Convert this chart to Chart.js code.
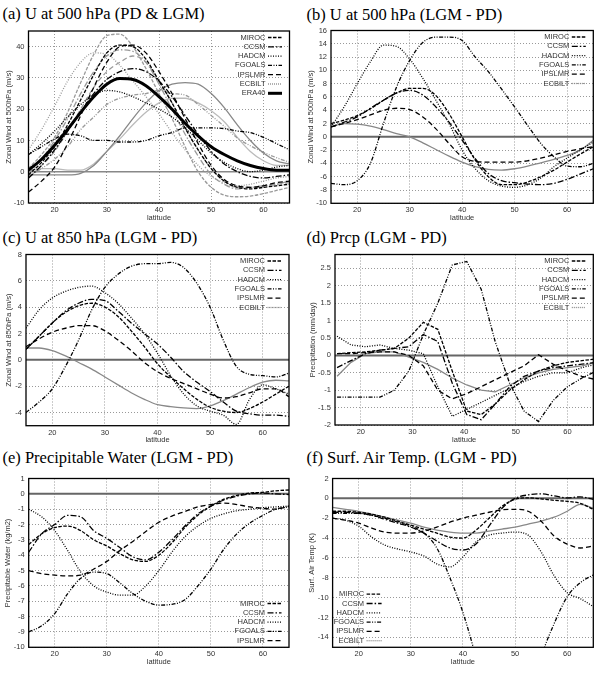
<!DOCTYPE html>
<html>
<head>
<meta charset="utf-8">
<script src="https://cdn.jsdelivr.net/npm/chart.js@4"></script>
<style>
body { margin: 0; background: #fff; width: 603px; height: 673px; position: relative; overflow: hidden; }
.t { position: absolute; font-family: "Liberation Serif", "DejaVu Serif", "Tinos", "Times New Roman", Times, "Noto Serif", serif; font-size: 16.5px; line-height: 1; white-space: nowrap; color: #000; }
canvas { position: absolute; }
</style>
</head>
<body>
<div class="t" style="left:2.5px;top:6.2px">(a) U at 500 hPa (PD &amp; LGM)</div>
<div class="t" style="left:306.5px;top:6.9px">(b) U at 500 hPa (LGM - PD)</div>
<div class="t" style="left:2.5px;top:230.2px">(c) U at 850 hPa (LGM - PD)</div>
<div class="t" style="left:306.5px;top:230.2px">(d) Prcp (LGM - PD)</div>
<div class="t" style="left:2.5px;top:449.9px">(e) Precipitable Water (LGM - PD)</div>
<div class="t" style="left:306.5px;top:450.2px">(f) Surf. Air Temp. (LGM - PD)</div>
<script>
// latitude grids
const lats = [15, 17.5, 20, 22.5, 25, 27.5, 30, 32.5, 35, 37.5, 40, 42.5, 45, 47.5, 50, 52.5, 55, 57.5, 60, 62.5, 65];
const latsPrep = [15.4, 18.1, 20.9, 23.7, 26.5, 29.3, 32.1, 34.9, 37.7, 40.5, 43.3, 46.0, 48.8, 51.6, 54.4, 57.2, 60.0, 62.8, 65.6];
const xTicks = [20, 30, 40, 50, 60];

// (a) U at 500 hPa, PD (black) and LGM (grey)
const era40 = [0.5, 4, 8.5, 13.5, 19, 24, 28, 29.8, 29.5, 27.5, 24, 20, 15.5, 11.5, 8, 5.5, 3.5, 2, 1, 0.5, 0.5];
const aMirocPd = [-1, 3, 8, 15, 23, 31, 38, 40.5, 40, 36, 29, 22, 14, 7, 1, -3, -5, -5.5, -5, -4.5, -4];
const aMirocLgm = [1, 5.5, 11, 19, 28.5, 37.5, 43.5, 44, 40, 33, 25, 17, 8, 0, -5, -7.5, -8, -7.8, -7, -6, -5];
const aCcsmPd = [-2, 2, 7, 13, 19, 25, 29.5, 32, 33, 32, 29, 24, 18, 12, 6.5, 2.5, 0, -1.5, -2, -1.5, -1];
const aCcsmLgm = [-0.5, 4, 10, 17, 25, 32, 37, 39, 38.5, 35, 28, 20, 12, 5, -1, -4, -5.5, -5, -4.5, -4, -3];
const aHadcmPd = [5.5, 9, 13, 17.5, 21.5, 24.5, 26, 25.5, 24, 22, 20, 17.5, 14, 10, 6, 3, 1, 0, 0.5, 1.5, 2];
const aHadcmLgm = [7, 13.5, 21, 29, 35, 38, 37.5, 34, 29, 24, 18.5, 12.5, 7, 2, -1.5, -3.5, -4.5, -4, -3, -2, -1.5];
const aFgoalsPd = [5.5, 8, 10.5, 12, 11.5, 10, 10, 9.5, 9.5, 10, 11.5, 12.5, 14, 14, 14, 13.8, 13, 12.5, 11, 9, 7];
const aFgoalsLgm = [-1.5, 1, 4, 8, 13.5, 17.5, 21.5, 23.5, 24.5, 25, 26, 25, 24.5, 21.5, 18, 14.5, 10.8, 8.3, 6.2, 4.5, 3];
const aIpslPd = [-6.5, -3, 1.5, 9, 18, 27, 35, 40, 40.5, 38, 32, 25, 17, 9, 2, -2.5, -4.5, -5, -4.5, -3.5, -3];
const aIpslLgm = [-2, 2, 6.5, 13, 20, 27, 32, 35, 37, 35, 29, 22, 14, 7, 1, -3, -5, -5, -4.5, -4, -3.5];
const aEcbiltPd = [-1, -1, -1, -1, -0.5, 2, 6.5, 11.5, 17, 22, 26, 28, 28.5, 28, 25, 20.5, 15, 10, 6, 3.5, 2.5];
const aEcbiltLgm = [0.5, 1, 1, 0.5, 0.5, 2.5, 6.5, 10.5, 15, 19, 22, 23.5, 23.5, 22, 19.5, 16, 11, 6.5, 3.5, 2, 2];

// (b) U at 500 hPa, LGM - PD
const bMiroc = [2.0, 2.5, 3.2, 4.2, 5.5, 6.6, 7.3, 7.3, 6.2, 3.5, 0, -3.5, -6.0, -7.2, -7.2, -6.8, -6.0, -5.0, -3.8, -2.6, -1.5];
const bCcsm = [1.5, 2.2, 3.0, 4.3, 5.5, 6.6, 7.0, 6.3, 4.5, 2.2, -0.5, -3.3, -5.5, -6.6, -6.9, -7.1, -7.2, -7.0, -6.4, -5.6, -4.8];
const bHadcm = [1.5, 4.5, 8, 11.3, 13.8, 13.6, 11.7, 8.8, 5.5, 2, -2, -4.8, -6.6, -7.4, -7.6, -7.2, -6.2, -4.5, -3.2, -2.0, -0.8];
const bFgoals = [-7.0, -7.2, -6.6, -4.0, 2.0, 7.5, 11.5, 14.2, 15.0, 15.0, 14.5, 12.0, 9.8, 7.2, 4.5, 1.7, -1.0, -3.0, -4.4, -4.5, -4.0];
const bIpsl = [1.5, 2.0, 2.6, 3.3, 4.0, 4.3, 4.1, 3.0, 1.2, -1.0, -3.0, -3.7, -3.8, -3.8, -3.8, -3.6, -3.2, -2.7, -2.2, -1.8, -1.5];
const bEcbilt = [1.5, 2.0, 1.9, 1.6, 1.1, 0.5, 0, -0.9, -1.9, -2.9, -3.8, -4.5, -4.9, -5.0, -4.8, -4.4, -3.9, -3.4, -2.8, -2.0, -0.5];

// (c) U at 850 hPa, LGM - PD
const cMiroc = [0.8, 1.8, 2.8, 3.6, 4.1, 4.3, 4.0, 3.3, 2.2, 1.0, -0.3, -1.3, -2.2, -3.0, -3.6, -3.9, -4.0, -3.7, -3.2, -2.6, -2.0];
const cCcsm = [0.8, 1.8, 2.8, 3.7, 4.3, 4.6, 4.5, 3.7, 2.8, 2.0, 1.2, 0.2, -0.9, -1.7, -2.4, -3.2, -3.9, -4.1, -4.2, -4.2, -4.3];
const cHadcm = [2.4, 3.8, 4.7, 5.2, 5.5, 5.6, 5.1, 4.3, 3.2, 2.0, 0.5, -1.2, -2.6, -3.5, -3.9, -4.2, -4.9, -3.0, -1.9, -2.2, -2.6];
const cFgoals = [-4, -3.2, -2.2, -0.5, 1.5, 3.8, 5.5, 6.5, 7.1, 7.3, 7.3, 7.4, 7.0, 5.8, 4.0, 1.5, -0.5, -1.1, -1.2, -1.3, -1.0];
const cIpsl = [1.0, 1.6, 2.1, 2.4, 2.6, 2.6, 2.2, 1.5, 0.7, -0.2, -0.9, -1.4, -1.8, -2.2, -2.6, -2.9, -2.8, -2.5, -2.2, -2.2, -2.8];
const cEcbilt = [0.9, 0.9, 0.7, 0.3, -0.2, -0.7, -1.3, -1.9, -2.5, -3.0, -3.4, -3.55, -3.65, -3.7, -3.5, -3.1, -2.6, -2.1, -1.7, -1.55, -1.6];

// (d) precipitation, LGM - PD (on latsPrep)
const dMiroc = [0.05, 0.08, 0.1, 0.15, 0.2, 0.5, 0.95, 0.75, -0.45, -1.6, -1.7, -1.4, -1.0, -0.7, -0.45, -0.3, -0.2, -0.15, -0.1];
const dCcsm = [-0.35, -0.15, 0.05, 0.15, 0.2, 0.25, 0.6, 0.4, -0.8, -1.7, -1.85, -1.4, -0.9, -0.6, -0.45, -0.35, -0.3, -0.25, -0.2];
const dHadcm = [0.55, 0.3, 0.25, 0.3, 0.2, 0.15, 0.05, -0.9, -1.75, -1.55, -1.35, -1.15, -0.95, -0.75, -0.6, -0.5, -0.5, -0.35, -0.25];
const dFgoals = [-1.2, -1.2, -1.2, -1.2, -1.0, -0.45, 0.6, 1.5, 2.6, 2.7, 1.9, 0.4, -0.8, -1.6, -1.9, -1.3, -0.9, -0.65, -0.45];
const dIpsl = [0.05, 0.05, 0.08, 0.1, 0.1, 0.0, -0.3, -1.0, -1.25, -1.1, -0.9, -0.7, -0.5, -0.3, 0.02, -0.25, -0.45, -0.6, -0.7];
const dEcbilt = [-0.6, -0.2, 0.05, 0.1, 0.1, -0.05, -0.2, -0.4, -0.65, -0.85, -1.0, -1.05, -0.85, -0.65, -0.5, -0.4, -0.35, -0.3, -0.2];

// (e) precipitable water, LGM - PD
const eMiroc = [-3.3, -2.6, -2.2, -2.1, -2.4, -3.0, -3.4, -3.9, -4.3, -4.4, -4.0, -3.2, -2.2, -1.4, -0.8, -0.35, -0.1, 0.05, 0.1, 0.2, 0.25];
const eCcsm = [-3.8, -2.6, -2.0, -1.4, -1.5, -2.4, -2.9, -3.5, -4.1, -4.3, -3.8, -3.0, -2.1, -1.3, -0.8, -0.4, -0.15, 0.0, 0.05, 0.0, -0.05];
const eHadcm = [-1.0, -1.5, -2.4, -3.7, -5.1, -6.0, -6.4, -6.6, -6.6, -6.0, -5.0, -3.8, -2.8, -2.1, -1.6, -1.3, -1.1, -1.0, -0.9, -0.85, -0.8];
const eFgoals = [-9.0, -8.6, -7.8, -6.5, -5.5, -5.1, -5.2, -5.8, -6.5, -7.0, -7.25, -7.2, -6.9, -6.0, -4.9, -3.6, -2.6, -1.9, -1.4, -1.0, -0.85];
const eIpsl = [-5.0, -5.2, -5.3, -5.35, -5.3, -4.9, -4.4, -3.7, -3.1, -2.45, -1.85, -1.45, -1.15, -0.85, -0.7, -0.6, -0.7, -0.85, -0.95, -1.0, -0.8];

// (f) surface air temperature, LGM - PD
const fMiroc = [-1.3, -1.3, -1.4, -1.6, -1.9, -2.3, -2.7, -3.1, -3.5, -3.9, -4.0, -3.2, -2.0, -0.8, -0.1, 0.05, -0.05, -0.2, -0.3, -0.5, -1.1];
const fCcsm = [-1.4, -1.4, -1.5, -1.7, -2.1, -2.5, -2.9, -3.5, -4.3, -5.0, -5.2, -4.6, -2.8, -1.0, 0.0, 0.35, 0.45, 0.25, 0.05, 0.15, -0.1];
const fHadcm = [-2.0, -2.2, -2.8, -3.9, -4.7, -5.1, -5.4, -5.8, -6.6, -6.9, -5.9, -4.4, -3.7, -3.5, -3.4, -3.7, -5.4, -7.8, -9.5, -10.1, -10.9];
const fFgoals = [-1.5, -1.5, -1.5, -1.7, -2.0, -2.4, -2.8, -3.5, -5.0, -8.0, -11.5, -16, -21, -24, -24, -21, -16, -12.6, -9.9, -8.5, -7.7];
const fIpsl = [-2.0, -2.2, -2.5, -3.0, -3.4, -3.5, -3.5, -3.3, -2.9, -2.4, -2.0, -1.7, -1.4, -1.15, -1.1, -1.3, -2.3, -3.8, -4.6, -5.0, -4.8];
const fEcbilt = [-0.9, -1.1, -1.3, -1.6, -1.9, -2.2, -2.5, -2.9, -3.2, -3.4, -3.5, -3.5, -3.3, -3.1, -2.9, -2.6, -2.3, -1.9, -1.3, -0.6, -1.0];

// y tick labels per panel
const yTicksA = [-10, 0, 10, 20, 30, 40];
const yTicksB = [-10, -8, -6, -4, -2, 0, 2, 4, 6, 8, 10, 12, 14, 16];
const yTicksC = [-4, -2, 0, 2, 4, 6, 8];
const yTicksD = [-2, -1.5, -1, -0.5, 0, 0.5, 1, 1.5, 2, 2.5];
const yTicksE = [-10, -9, -8, -7, -6, -5, -4, -3, -2, -1, 0, 1];
const yTicksF = [-14, -12, -10, -8, -6, -4, -2, 0, 2];

const dashes = {
  MIROC: [3.5, 1.5],
  CCSM: [6, 2, 1.5, 2],
  HADCM: [1, 1.5],
  FGOALS: [4, 1.5, 1, 1.5, 1, 1.5],
  IPSLMR: [5, 3],
  ECBILT: [],
  ERA40: []
};

function line(label, xs, ys, extra) {
  return Object.assign({
    label: label,
    data: xs.map((x, i) => ({ x: x, y: ys[i] })),
    borderColor: label === 'ECBILT' ? '#888' : '#000',
    borderWidth: 1.3,
    borderDash: dashes[label],
    pointRadius: 0,
    fill: false,
    cubicInterpolationMode: 'monotone',
    legend: true
  }, extra || {});
}

const frame = {
  id: 'frame',
  beforeDatasetsDraw(chart, args, o) {
    const { ctx, chartArea: a } = chart;
    const z = chart.scales.y.getPixelForValue(0);
    ctx.save();
    ctx.strokeStyle = o.zeroColor;
    ctx.lineWidth = o.zeroWidth;
    ctx.beginPath();
    ctx.moveTo(a.left, z);
    ctx.lineTo(a.right, z);
    ctx.stroke();
    ctx.restore();
  },
  afterDatasetsDraw(chart, args, o) {
    const { ctx, chartArea: a } = chart;
    ctx.save();
    ctx.strokeStyle = '#000';
    ctx.lineWidth = 1.3;
    ctx.strokeRect(a.left, a.top, a.right - a.left, a.bottom - a.top);
    const items = chart.data.datasets.filter(d => d.legend);
    const n = items.length, gap = 9.3;
    ctx.font = '7.5px "Liberation Sans", Arial, sans-serif';
    ctx.textAlign = 'right';
    ctx.textBaseline = 'middle';
    items.forEach((d, i) => {
      let yc, tx, x0, x1;
      if (o.legend === 'bl') {
        yc = a.bottom - 6.6 - (n - 1 - i) * gap;
        tx = a.left + 31.5; x0 = a.left + 34; x1 = a.left + 49;
      } else {
        yc = o.legend === 'br' ? a.bottom - 6.6 - (n - 1 - i) * gap : a.top + 6.5 + i * gap;
        tx = a.right - 24; x0 = a.right - 21.5; x1 = a.right - 7.5;
      }
      ctx.fillStyle = '#333';
      ctx.fillText(d.label, tx, yc);
      ctx.setLineDash(d.label === 'ECBILT' ? [1, 1] : d.borderDash);
      ctx.lineWidth = d.borderWidth;
      ctx.strokeStyle = d.borderColor;
      ctx.beginPath();
      ctx.moveTo(x0, yc);
      ctx.lineTo(x1, yc);
      ctx.stroke();
    });
    ctx.restore();
  }
};

function panel(p) {
  const left = p.col ? 300 : 0, width = p.col ? 303 : 300;
  const top = 22 + p.row * 224;
  const height = Math.ceil(p.B + 19 - top);
  const cv = document.createElement('canvas');
  cv.width = width; cv.height = height;
  cv.style.left = left + 'px'; cv.style.top = top + 'px';
  document.body.appendChild(cv);
  const font = { family: '"Liberation Sans", Arial, sans-serif', size: 7.5 };
  new Chart(cv, {
    type: 'line',
    data: { datasets: p.datasets },
    options: {
      responsive: false,
      animation: false,
      devicePixelRatio: 1,
      layout: { padding: { left: 0, top: p.T - top, right: left + width - p.R, bottom: height - (p.B - top) - 19 } },
      plugins: {
        legend: { display: false },
        tooltip: { enabled: false },
        frame: { legend: p.legend, zeroColor: p.zeroColor || '#666', zeroWidth: p.zeroWidth || 2 }
      },
      scales: {
        x: {
          type: 'linear', min: 15, max: 65,
          afterBuildTicks: s => { s.ticks = xTicks.map(v => ({ value: v })); },
          afterFit: s => { s.height = 19; },
          grid: { color: '#999', lineWidth: 1, drawTicks: false },
          border: { display: false, dash: [1, 2] },
          ticks: { font: font, color: '#333', padding: 2.5, maxRotation: 0, autoSkip: false },
          title: { display: true, text: 'latitude', font: font, color: '#333', padding: { top: 0, bottom: 0 } }
        },
        y: {
          type: 'linear', min: p.ymin, max: p.ymax,
          afterBuildTicks: s => { s.ticks = p.yTicks.map(v => ({ value: v })); },
          afterFit: s => { s.width = p.L - left; },
          grid: { color: '#999', lineWidth: 1, drawTicks: false },
          border: { display: false, dash: [1, 2] },
          ticks: { font: font, color: '#333', padding: 4, autoSkip: false, callback: v => String(v) },
          title: { display: true, text: p.ytitle, font: font, color: '#333', padding: { top: p.yPad, bottom: 0 } }
        }
      }
    },
    plugins: [frame]
  });
}

const lgm = { borderColor: '#9a9a9a', legend: false, order: 2 };

panel({
  row: 0, col: 0, L: 28.5, T: 31, R: 289.5, B: 203, yPad: 4.8,
  ymin: -10, ymax: 45, yTicks: yTicksA, ytitle: 'Zonal Wind at 500hPa (m/s)',
  legend: 'tr', zeroColor: '#888', zeroWidth: 1.5,
  datasets: [
    line('MIROC', lats, aMirocPd),
    line('CCSM', lats, aCcsmPd),
    line('HADCM', lats, aHadcmPd),
    line('FGOALS', lats, aFgoalsPd),
    line('IPSLMR', lats, aIpslPd),
    line('ECBILT', lats, aEcbiltPd),
    line('ERA40', lats, era40, { borderWidth: 3, order: -1 }),
    line('MIROC', lats, aMirocLgm, lgm),
    line('CCSM', lats, aCcsmLgm, lgm),
    line('HADCM', lats, aHadcmLgm, lgm),
    line('FGOALS', lats, aFgoalsLgm, lgm),
    line('IPSLMR', lats, aIpslLgm, lgm),
    line('ECBILT', lats, aEcbiltLgm, { borderColor: '#bbb', legend: false, order: 2 })
  ]
});

panel({
  row: 0, col: 1, L: 331, T: 30, R: 593.3, B: 203.3, yPad: 6.5,
  ymin: -10, ymax: 16, yTicks: yTicksB, ytitle: 'Zonal Wind at 500hPa (m/s)', legend: 'tr',
  datasets: [
    line('MIROC', lats, bMiroc), line('CCSM', lats, bCcsm), line('HADCM', lats, bHadcm),
    line('FGOALS', lats, bFgoals), line('IPSLMR', lats, bIpsl), line('ECBILT', lats, bEcbilt)
  ]
});

panel({
  row: 1, col: 0, L: 26, T: 252.3, R: 289, B: 425.7, yPad: 4.8,
  ymin: -5, ymax: 8, yTicks: yTicksC, ytitle: 'Zonal Wind at 850hPa (m/s)', legend: 'tr',
  datasets: [
    line('MIROC', lats, cMiroc), line('CCSM', lats, cCcsm), line('HADCM', lats, cHadcm),
    line('FGOALS', lats, cFgoals), line('IPSLMR', lats, cIpsl), line('ECBILT', lats, cEcbilt)
  ]
});

const straight = { cubicInterpolationMode: 'default', tension: 0 };
panel({
  row: 1, col: 1, L: 335, T: 249, R: 593.3, B: 425, yPad: 8.2,
  ymin: -2, ymax: 2.9, yTicks: yTicksD, ytitle: 'Precipitation (mm/day)', legend: 'tr',
  datasets: [
    line('MIROC', latsPrep, dMiroc, straight), line('CCSM', latsPrep, dCcsm, straight),
    line('HADCM', latsPrep, dHadcm, straight), line('FGOALS', latsPrep, dFgoals, straight),
    line('IPSLMR', latsPrep, dIpsl, straight), line('ECBILT', latsPrep, dEcbilt, straight)
  ]
});

panel({
  row: 2, col: 0, L: 28.7, T: 474.7, R: 289, B: 647.3, yPad: 3.8,
  ymin: -10, ymax: 1, yTicks: yTicksE, ytitle: 'Precipitable Water (kg/m2)', legend: 'br',
  datasets: [
    line('MIROC', lats, eMiroc), line('CCSM', lats, eCcsm), line('HADCM', lats, eHadcm),
    line('FGOALS', lats, eFgoals), line('IPSLMR', lats, eIpsl)
  ]
});

panel({
  row: 2, col: 1, L: 332.6, T: 474, R: 593.3, B: 647.3, yPad: 7.2,
  ymin: -15, ymax: 2, yTicks: yTicksF, ytitle: 'Surf. Air Temp (K)', legend: 'bl',
  datasets: [
    line('MIROC', lats, fMiroc), line('CCSM', lats, fCcsm), line('HADCM', lats, fHadcm),
    line('FGOALS', lats, fFgoals), line('IPSLMR', lats, fIpsl), line('ECBILT', lats, fEcbilt)
  ]
});
</script>
</body>
</html>
